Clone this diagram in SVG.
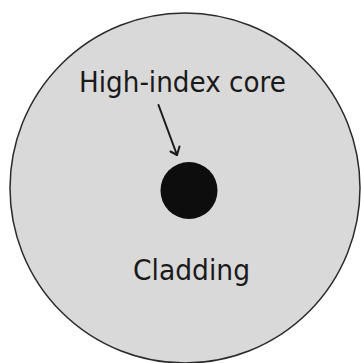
<svg xmlns="http://www.w3.org/2000/svg" width="361" height="363" viewBox="0 0 361 363">
<style>
.lbl{font-family:"DejaVu Sans","Verdana",sans-serif;font-size:27.5px;fill:#1a1a1a}
.conn{stroke:#1a1a1a;stroke-width:2;fill:none;stroke-linecap:round;stroke-linejoin:round}
</style>
<rect width="361" height="363" fill="#ffffff"/>
<g id="cladding">
<circle cx="185" cy="188" r="175" fill="#d9d9d9" stroke="#2a2a2a" stroke-width="1.5"/>
<text class="lbl" x="133" y="280" textLength="117" lengthAdjust="spacingAndGlyphs">Cladding</text>
</g>
<g id="core">
<circle cx="189" cy="190.5" r="28.5" fill="#0d0d0d"/>
<text class="lbl" x="79" y="92" textLength="207" lengthAdjust="spacingAndGlyphs">High-index core</text>
</g>
<g id="connectors">
<path class="conn" d="M158.5 105 L177 155"/>
<path class="conn" d="M170.5 151.5 L177 155 L179.5 146.5"/>
</g>
</svg>
